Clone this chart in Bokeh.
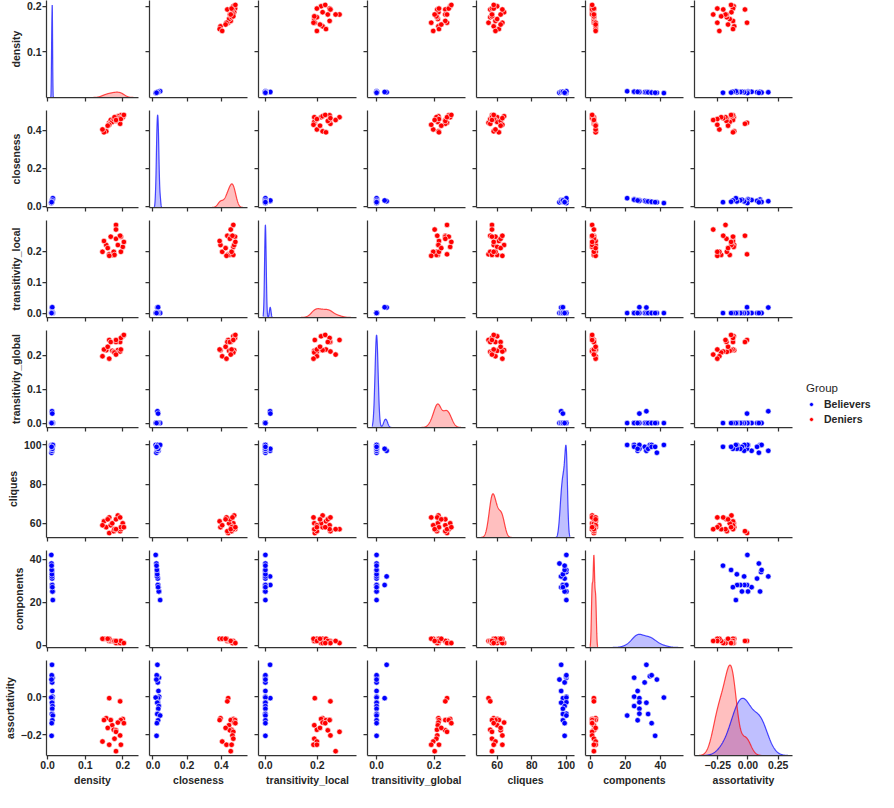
import numpy as np
from bokeh.plotting import figure
from bokeh.layouts import gridplot
from bokeh.models import FixedTicker, Range1d, Legend, LegendItem
from bokeh.embed import file_html
from bokeh.resources import INLINE

# ---------------- data ----------------
variables = ["density", "closeness", "transitivity_local", "transitivity_global",
             "cliques", "components", "assortativity"]
groups = ["Believers", "Deniers"]
group_colors = ["blue", "red"]

believers_density = [0.0116, 0.0130, 0.0112, 0.0110, 0.0119, 0.0103, 0.0126, 0.0131, 0.0123, 0.0098,
                     0.0124, 0.0115, 0.0129, 0.0122, 0.0121, 0.0114, 0.0138, 0.0125, 0.0109, 0.0106]
believers_closeness = [0.026, 0.035, 0.024, 0.022, 0.028, 0.020, 0.032, 0.036, 0.030, 0.016,
                       0.029, 0.025, 0.034, 0.031, 0.028, 0.025, 0.042, 0.030, 0.023, 0.021]
believers_transitivity_local = [0.018, 0.0, 0.0, 0.0, 0.0, 0.0, 0.0, 0.0, 0.019, 0.0,
                                0.0, 0.0, 0.0, 0.0, 0.0, 0.0, 0.0, 0.0, 0.0, 0.0]
believers_transitivity_global = [0.035, 0.0, 0.0, 0.0, 0.0, 0.0, 0.0, 0.0, 0.028, 0.0,
                                 0.0, 0.0, 0.0, 0.0, 0.0, 0.0, 0.0, 0.0, 0.0, 0.0]
believers_cliques = [97, 100, 100, 100, 99, 96, 97, 100, 98, 100,
                     100, 97, 99, 98, 100, 98, 100, 98, 99, 99]
believers_components = [32, 25, 34, 35, 31, 38, 27, 25, 28, 42,
                        28, 32, 25, 28, 28, 33, 21, 27, 35, 37]
believers_assortativity = [0.168, 0.100, 0.108, 0.113, 0.075, 0.090, 0.030, 0.000, -0.008, -0.005,
                           -0.030, -0.032, -0.050, -0.064, -0.090, -0.092, -0.100, -0.125, -0.140, -0.207]

deniers_density = [0.164, 0.193, 0.156, 0.200, 0.150, 0.168, 0.195, 0.187, 0.172, 0.176,
                   0.182, 0.182, 0.193, 0.178, 0.146, 0.164, 0.195, 0.182, 0.160, 0.203]
deniers_closeness = [0.440, 0.435, 0.395, 0.470, 0.390, 0.455, 0.480, 0.475, 0.445, 0.460,
                     0.450, 0.470, 0.465, 0.470, 0.405, 0.430, 0.460, 0.455, 0.425, 0.482]
deniers_transitivity_local = [0.190, 0.250, 0.220, 0.214, 0.233, 0.247, 0.247, 0.220, 0.188, 0.198,
                              0.240, 0.285, 0.250, 0.188, 0.198, 0.185, 0.198, 0.270, 0.210, 0.230]
deniers_transitivity_global = [0.245, 0.239, 0.215, 0.256, 0.217, 0.239, 0.251, 0.215, 0.213, 0.210,
                               0.239, 0.245, 0.211, 0.208, 0.197, 0.190, 0.217, 0.202, 0.225, 0.260]
deniers_cliques = [55, 56, 58, 60, 61, 59, 57, 64, 60, 56,
                   62, 57, 63, 57, 59, 63, 58, 57, 62, 58]
deniers_components = [2, 2, 3, 1, 3, 2, 1, 1, 2, 2,
                      2, 1, 1, 2, 3, 3, 2, 2, 3, 1]
deniers_assortativity = [-0.008, -0.025, -0.114, -0.118, -0.124, -0.124, -0.124, -0.137, -0.151, -0.175,
                         -0.178, -0.186, -0.205, -0.222, -0.237, -0.254, -0.254, -0.288, -0.165, -0.140]

x_tick_values = {"density": [0.0, 0.1, 0.2], "closeness": [0.0, 0.2, 0.4],
                 "transitivity_local": [0.0, 0.2], "transitivity_global": [0.0, 0.2],
                 "cliques": [60, 80, 100], "components": [0, 20, 40],
                 "assortativity": [-0.25, 0.0, 0.25]}
x_tick_labels = {"density": ["0.0", "0.1", "0.2"], "closeness": ["0.0", "0.2", "0.4"],
                 "transitivity_local": ["0.0", "0.2"], "transitivity_global": ["0.0", "0.2"],
                 "cliques": ["60", "80", "100"], "components": ["0", "20", "40"],
                 "assortativity": ["\u22120.25", "0.00", "0.25"]}
y_tick_values = {"density": [0.0, 0.1, 0.2], "closeness": [0.0, 0.2, 0.4],
                 "transitivity_local": [0.0, 0.1, 0.2, 0.3], "transitivity_global": [0.0, 0.1, 0.2],
                 "cliques": [60, 80, 100], "components": [0, 20, 40],
                 "assortativity": [-0.2, 0.0]}
y_tick_labels = {"density": ["0.0", "0.1", "0.2"], "closeness": ["0.0", "0.2", "0.4"],
                 "transitivity_local": ["0.0", "0.1", "0.2", "0.3"], "transitivity_global": ["0.0", "0.1", "0.2"],
                 "cliques": ["60", "80", "100"], "components": ["0", "20", "40"],
                 "assortativity": ["\u22120.2", "0.0"]}

believers = {"density": believers_density, "closeness": believers_closeness,
             "transitivity_local": believers_transitivity_local,
             "transitivity_global": believers_transitivity_global,
             "cliques": believers_cliques, "components": believers_components,
             "assortativity": believers_assortativity}
deniers = {"density": deniers_density, "closeness": deniers_closeness,
           "transitivity_local": deniers_transitivity_local,
           "transitivity_global": deniers_transitivity_global,
           "cliques": deniers_cliques, "components": deniers_components,
           "assortativity": deniers_assortativity}
group_data = [believers, deniers]

# ---------------- KDE (gaussian, Scott bandwidth, cut=3, common norm) ----------------
n_total = sum(len(g["density"]) for g in group_data)


def kde_curve(vals):
    x = np.asarray(vals, dtype=float)
    n = len(x)
    bw = n ** (-1 / 5) * x.std(ddof=1)
    grid = np.linspace(x.min() - 3 * bw, x.max() + 3 * bw, 200)
    dens = np.exp(-0.5 * ((grid[:, None] - x[None, :]) / bw) ** 2).sum(axis=1) / (n * bw * np.sqrt(2 * np.pi))
    return grid, dens * n / n_total


kdes = {v: [kde_curve(g[v]) for g in group_data] for v in variables}

col_range, row_range, kde_top = {}, {}, {}
for v in variables:
    data_all = np.concatenate([np.asarray(g[v], float) for g in group_data])
    lo, hi = data_all.min(), data_all.max()
    pad = 0.05 * (hi - lo)
    row_range[v] = Range1d(lo - pad, hi + pad)
    klo = min(lo, min(k[0].min() for k in kdes[v]))
    khi = max(hi, max(k[0].max() for k in kdes[v]))
    kpad = 0.05 * (khi - klo)
    col_range[v] = Range1d(klo - kpad, khi + kpad)
    kde_top[v] = 1.05 * max(k[1].max() for k in kdes[v])

# ---------------- styling ----------------
FONT = "Liberation Sans"
TXT = "#262626"
SPINE = "#333333"
FRAME_W, FRAME_H = 98, 97
MARK = 5.5


def style_axis(ax, ticks, labels, show, title):
    ax.ticker = FixedTicker(ticks=ticks)
    ax.axis_line_color = SPINE
    ax.axis_line_width = 1.25
    ax.major_tick_line_color = SPINE
    ax.major_tick_line_width = 1.25
    ax.major_tick_out = 4
    ax.major_tick_in = 0
    ax.minor_tick_line_color = None
    if show:
        ax.major_label_overrides = {t: l for t, l in zip(ticks, labels)}
        ax.major_label_text_font = FONT
        ax.major_label_text_font_style = "bold"
        ax.major_label_text_color = TXT
        ax.major_label_text_font_size = "10.5px"
        ax.major_label_standoff = 1
        ax.axis_label = title
        ax.axis_label_text_font = FONT
        ax.axis_label_text_font_size = "10.5px"
        ax.axis_label_text_font_style = "bold"
        ax.axis_label_text_color = TXT
        ax.axis_label_standoff = 2
    else:
        ax.major_label_text_color = None
        ax.major_label_standoff = 0


nv = len(variables)
rows = []
for i, rv in enumerate(variables):
    row = []
    for j, cv in enumerate(variables):
        left = 40 if j == 0 else 7
        right = 4
        top = 0 if i == 0 else 7
        bottom = 31 if i == nv - 1 else 6
        p = figure(width=left + FRAME_W + right, height=top + FRAME_H + bottom,
                   x_range=col_range[cv], y_range=row_range[rv],
                   toolbar_location=None, output_backend="svg",
                   min_border_left=left, min_border_right=right,
                   min_border_top=top, min_border_bottom=bottom,
                   outline_line_color=None)
        p.grid.visible = False
        style_axis(p.xaxis[0], x_tick_values[cv], x_tick_labels[cv], i == nv - 1, cv)
        style_axis(p.yaxis[0], y_tick_values[rv], y_tick_labels[rv], j == 0, rv)
        if i == j:
            p.extra_y_ranges = {"kde": Range1d(0, kde_top[cv])}
            for (gx, gy), c in zip(kdes[cv], group_colors):
                p.varea(x=gx, y1=0, y2=gy, fill_color=c, fill_alpha=0.25, y_range_name="kde")
            for (gx, gy), c in zip(kdes[cv], group_colors):
                p.line(gx, gy, line_color=c, line_width=1.2, line_alpha=0.7, y_range_name="kde")
        else:
            for g, c in zip(group_data, group_colors):
                p.scatter(g[cv], g[rv], size=MARK, fill_color=c, line_color="white", line_width=0.6)
        row.append(p)
    rows.append(row)

# ---------------- legend panel ----------------
# the group renderers are drawn from the real data but the panel's ranges keep them out of view,
# so that only the legend (with its marker glyphs) is visible
legend_fig = figure(width=82, height=7 + FRAME_H + 6, x_range=Range1d(-3, -2), y_range=Range1d(-3, -2),
                    toolbar_location=None, output_backend="svg",
                    x_axis_location=None, y_axis_location=None,
                    min_border=0, outline_line_color=None)
legend_fig.grid.visible = False
items = []
for g, name, c in zip(group_data, groups, group_colors):
    r = legend_fig.scatter(g["density"], g["closeness"], size=MARK, fill_color=c,
                           line_color="white", line_width=0.6)
    items.append(LegendItem(label=name, renderers=[r]))
legend = Legend(items=items, title="Group", location=(10, 2),
                border_line_color=None, background_fill_alpha=0,
                padding=0, margin=0, spacing=3,
                glyph_width=10, glyph_height=12, label_height=12, label_standoff=8,
                label_text_font=FONT, label_text_font_size="10.5px", label_text_font_style="bold",
                label_text_color=TXT,
                title_text_font=FONT, title_text_font_size="11.5px", title_text_font_style="normal",
                title_text_color=TXT, title_standoff=4)
legend_fig.add_layout(legend)

for i in range(nv):
    rows[i].append(legend_fig if i == 3 else None)

grid = gridplot(rows, toolbar_location=None)

open("out.html", "w").write(file_html(grid, INLINE))
